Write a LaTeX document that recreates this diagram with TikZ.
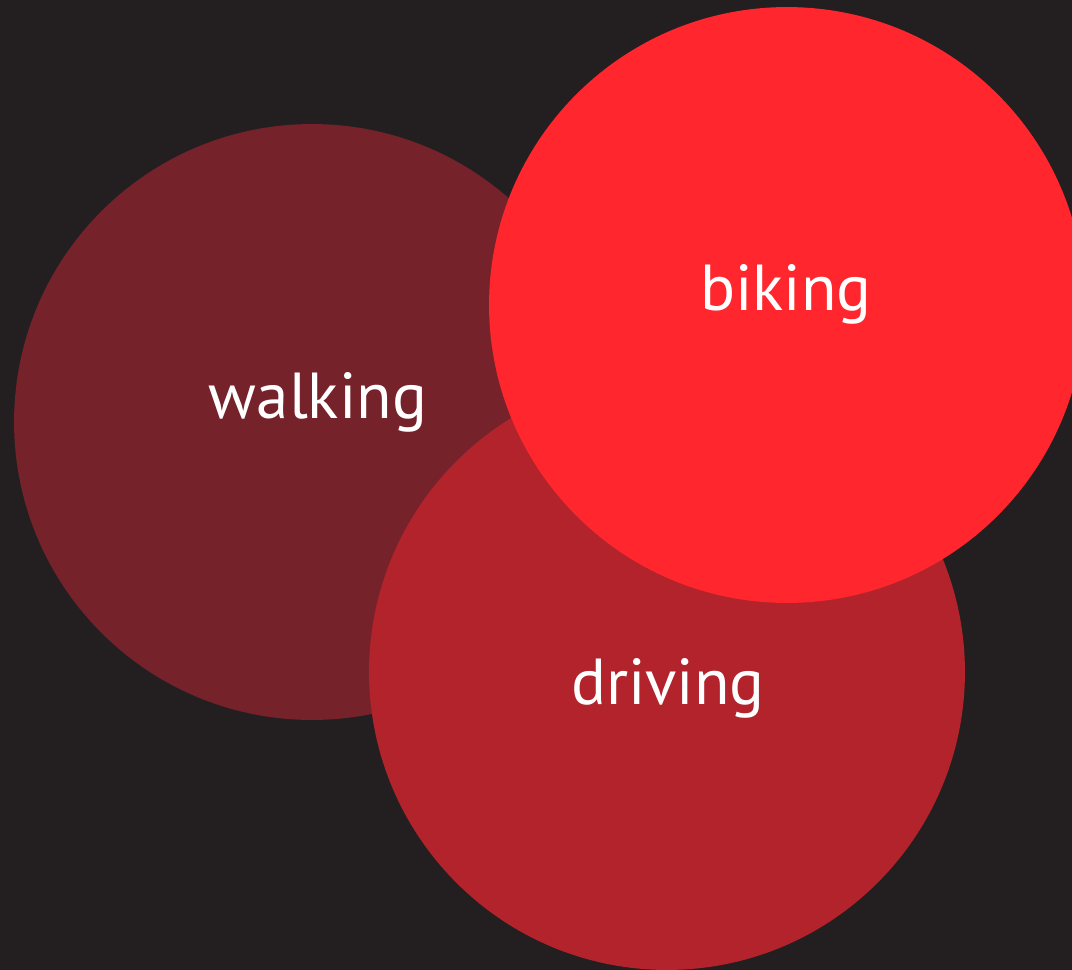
\documentclass[tikz,border=0pt]{standalone}
\usepackage{fontspec}
\setmainfont{PT Sans}
\usepackage{xcolor}
\definecolor{cBack}{HTML}{231F20}
\definecolor{cWalk}{HTML}{75222A}
\definecolor{cDrive}{HTML}{B3232B}
\definecolor{cBike}{HTML}{FF262D}
\usepackage{tikz}
\usetikzlibrary{positioning}
\tikzset{
  node-mode/.style={circle,inner sep=0pt,minimum size=11.92cm},
  node-text/.style={anchor=base,text=white,font=\fontsize{37}{41}\selectfont},
}

\begin{document}
\begin{tikzpicture}[x=0.02cm,y=-0.02cm]
  \fill[cBack] (0,0) rectangle (1072,970);
  \useasboundingbox (0,0) rectangle (1072,970);
  \clip (0,0) rectangle (1072,970);
  \node[node-mode,fill=cWalk] (walk) at (312,422) {};
  \node[node-mode,fill=cDrive] (drive) at (667,672) {};
  \node[node-mode,fill=cBike] (bike) at (787,305) {};
  \node[node-text] (walk-t) at (318,418) {walking};
  \node[node-text] (bike-t) at (786,310) {biking};
  \node[node-text] (drive-t) at (668,704) {driving};
\end{tikzpicture}
\end{document}
